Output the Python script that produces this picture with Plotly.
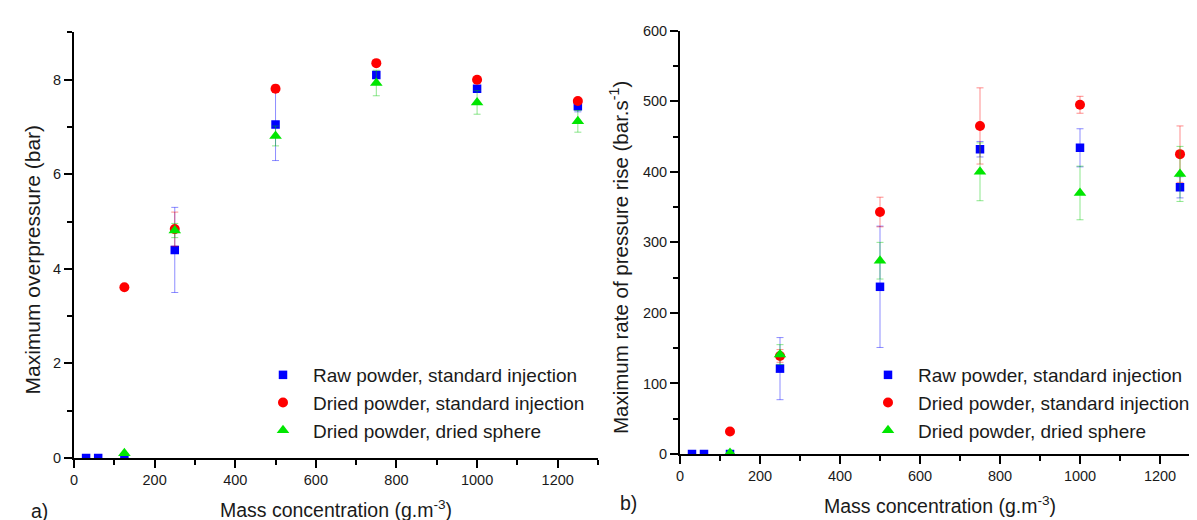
import plotly.graph_objects as go

# ---- data ----
x_raw = [30, 60, 125, 250, 500, 750, 1000, 1250]
x_dried = [125, 250, 500, 750, 1000, 1250]

# a) Maximum overpressure (bar)
pmax_raw = [0, 0, 0, 4.4, 7.05, 8.1, 7.81, 7.44]
pmax_raw_err = [0, 0, 0, 0.9, 0.76, 0.05, 0.05, 0.12]
pmax_dried = [3.61, 4.84, 7.81, 8.35, 8.0, 7.55]
pmax_dried_err = [0, 0.36, 0.08, 0.05, 0.07, 0.05]
pmax_sphere = [0.1, 4.81, 6.81, 7.93, 7.52, 7.12]
pmax_sphere_err = [0, 0.15, 0.21, 0.27, 0.25, 0.23]

# b) Maximum rate of pressure rise (bar/s)
dpdt_raw = [0, 0, 0, 121, 237, 432, 434, 378]
dpdt_raw_err = [0, 0, 0, 44, 86, 11, 27, 15]
dpdt_dried = [32, 139, 343, 465, 495, 425]
dpdt_dried_err = [0, 9, 21, 54, 12, 40]
dpdt_sphere = [1.5, 141, 274, 400, 370, 397]
dpdt_sphere_err = [0, 14, 26, 41, 38, 39]

series_names = ["Raw powder, standard injection",
                "Dried powder, standard injection",
                "Dried powder, dried sphere"]

x_title = "Mass concentration (g.m<sup>-3</sup>)"
y_title_a = "Maximum overpressure (bar)"
y_title_b = "Maximum rate of pressure rise (bar.s<sup>-1</sup>)"

FONT = "Liberation Sans, Arial, sans-serif"
TXT = "#1a1a1a"

styles = [
    dict(symbol="square", size=8.5, color="#0000ff", err="rgba(0,0,255,0.45)"),
    dict(symbol="circle", size=10, color="#ff0000", err="rgba(255,0,0,0.45)"),
    dict(symbol="triangle-up", size=11, color="#00e600", err="rgba(0,200,0,0.45)"),
]

fig = go.Figure()

panel_a = [(x_raw, pmax_raw, pmax_raw_err),
           (x_dried, pmax_dried, pmax_dried_err),
           (x_dried, pmax_sphere, pmax_sphere_err)]
panel_b = [(x_raw, dpdt_raw, dpdt_raw_err),
           (x_dried, dpdt_dried, dpdt_dried_err),
           (x_dried, dpdt_sphere, dpdt_sphere_err)]

for (xs, ys, es), st, nm in zip(panel_a, styles, series_names):
    fig.add_trace(go.Scatter(
        x=xs, y=ys, mode="markers", name=nm, xaxis="x", yaxis="y",
        legend="legend",
        marker=dict(symbol=st["symbol"], size=st["size"], color=st["color"], line=dict(width=0)),
        error_y=dict(type="data", array=es, visible=True, color=st["err"], thickness=1, width=3.5),
    ))

for (xs, ys, es), st, nm in zip(panel_b, styles, series_names):
    fig.add_trace(go.Scatter(
        x=xs, y=ys, mode="markers", name=nm, xaxis="x2", yaxis="y2",
        legend="legend2",
        marker=dict(symbol=st["symbol"], size=st["size"], color=st["color"], line=dict(width=0)),
        error_y=dict(type="data", array=es, visible=True, color=st["err"], thickness=1, width=3.5),
    ))

W, H = 1197, 520

def ax_common():
    return dict(
        showline=True, linecolor="black", linewidth=1.8, mirror=False,
        ticks="outside", ticklen=8, tickwidth=1.6, tickcolor="black",
        showgrid=False, zeroline=False,
        tickfont=dict(family=FONT, size=14.5, color=TXT),
        automargin=False,
    )

xa = ax_common()
xa.update(domain=[66 / W, 590 / W], range=[0, 1300], tick0=0, dtick=200,
          minor=dict(dtick=100, ticks="outside", ticklen=5, tickwidth=1.6, tickcolor="black"),
          anchor="y",
          title=dict(text=x_title, standoff=16,
                     font=dict(family=FONT, size=19.5, color=TXT)))
ya = ax_common()
ya.update(domain=[(H - 450) / H, (H - 24.4) / H], range=[0, 9], tick0=0, dtick=2,
          minor=dict(dtick=1, ticks="outside", ticklen=5, tickwidth=1.6, tickcolor="black"),
          anchor="x")
xb = ax_common()
xb.update(domain=[672 / W, 1192 / W], range=[0, 1300], tick0=0, dtick=200,
          minor=dict(dtick=100, ticks="outside", ticklen=5, tickwidth=1.6, tickcolor="black"),
          anchor="y2",
          title=dict(text=x_title, standoff=16,
                     font=dict(family=FONT, size=19.5, color=TXT)))
yb = ax_common()
yb.update(domain=[(H - 446) / H, (H - 22.7) / H], range=[0, 600], tick0=0, dtick=100,
          minor=dict(dtick=50, ticks="outside", ticklen=5, tickwidth=1.6, tickcolor="black"),
          anchor="x2")

legend_common = dict(
    font=dict(family=FONT, size=19, color=TXT),
    bgcolor="rgba(0,0,0,0)", borderwidth=0,
    xanchor="left", yanchor="middle", itemsizing="trace", itemwidth=50,
)

fig.update_layout(
    width=W, height=H,
    margin=dict(l=0, r=0, t=0, b=0),
    paper_bgcolor="white", plot_bgcolor="white",
    font=dict(family=FONT, color=TXT),
    xaxis=xa, yaxis=ya, xaxis2=xb, yaxis2=yb,
    legend=dict(x=245 / W, y=(H - 395) / H, **legend_common),
    legend2=dict(x=850 / W, y=(H - 395) / H, **legend_common),
    showlegend=True,
    annotations=[
        dict(text=y_title_a, x=23.5 / W, y=(H - 252) / H, xref="paper", yref="paper",
             textangle=-90, xanchor="center", yanchor="middle",
             showarrow=False, font=dict(family=FONT, size=21, color=TXT)),
        dict(text=y_title_b, x=611 / W, y=(H - 250) / H, xref="paper", yref="paper",
             textangle=-90, xanchor="center", yanchor="middle",
             showarrow=False, font=dict(family=FONT, size=20.5, color=TXT)),
        dict(text="a)", x=31 / W, y=(H - 503) / H, xref="paper", yref="paper",
             xanchor="center", yanchor="middle",
             showarrow=False, font=dict(family=FONT, size=19.5, color=TXT)),
        dict(text="b)", x=620 / W, y=(H - 495) / H, xref="paper", yref="paper",
             xanchor="center", yanchor="middle",
             showarrow=False, font=dict(family=FONT, size=19.5, color=TXT)),
    ],
)

fig.write_html("out.html")
